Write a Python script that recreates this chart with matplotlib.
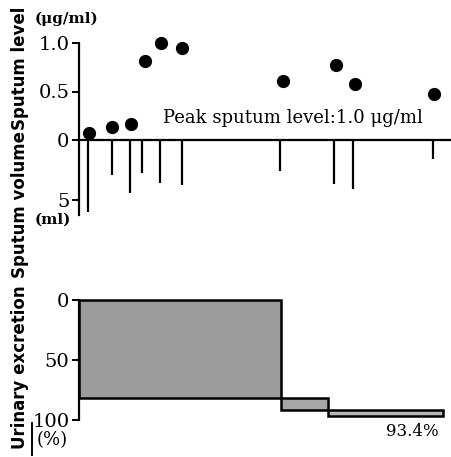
import matplotlib
matplotlib.use("Agg")
import matplotlib.pyplot as plt
from matplotlib.patches import Rectangle
from matplotlib.lines import Line2D

plt.rcParams['font.family'] = ['DejaVu Serif']

# 喀痰中濃度 (time axis in arbitrary units, 0..37.2)
level_time = [1.0, 3.3, 5.2, 6.6, 8.2, 10.3, 20.4, 25.7, 27.6, 35.5]
level_val = [0.07, 0.13, 0.17, 0.81, 1.0, 0.95, 0.61, 0.77, 0.58, 0.47]

# 喀痰量 (ml)
vol_time = [0.9, 3.3, 5.1, 6.3, 8.1, 10.3, 20.1, 25.5, 27.4, 35.4]
vol_val = [6.0, 2.9, 4.4, 2.75, 3.6, 3.75, 2.6, 3.7, 4.1, 1.6]

# 尿中排泄 (%)
urine_start = [0.0, 20.2, 24.9]
urine_end = [20.2, 24.9, 36.4]
urine_top = [0.0, 82.0, 92.0]
urine_bottom = [81.5, 92.0, 97.0]
urine_color = ['#9c9c9c', '#a6a6a6', '#b8b8b8']

ml_scale = 12 / 97  # level units per ml on the shared axis
x_max = 37.2

fig = plt.figure(figsize=(4.51, 4.57), dpi=100)

# 上段: 濃度と喀痰量
ax = fig.add_axes([79 / 451, (457 - 215) / 457, 372 / 451, 172 / 457])
ax.set_xlim(0, x_max)
ax.set_ylim(-6.25 * ml_scale, 1.0)
ax.vlines(vol_time, 0, [-v * ml_scale for v in vol_val], color='black', lw=1.6)
ax.plot(level_time, level_val, 'o', color='black', ms=8.5, clip_on=False, zorder=5)
ax.axhline(0, color='black', lw=1.6)
for s in ['top', 'right', 'bottom']:
    ax.spines[s].set_visible(False)
ax.spines['left'].set_linewidth(1.6)
ax.set_xticks([])
ax.set_yticks([1.0, 0.5, 0, -5 * ml_scale])
ax.set_yticklabels(['1.0', '0.5', '0', '5'])
ax.tick_params(axis='y', length=5, width=1.4, pad=2, labelsize=14)
ax.text(8.4, 0.23, 'Peak sputum level:1.0 μg/ml', fontsize=13, va='center', ha='left')

# 下段: 尿中排泄
ax2 = fig.add_axes([79 / 451, (457 - 420) / 457, 372 / 451, 120 / 457])
ax2.set_xlim(0, x_max)
ax2.set_ylim(100, 0)
for x0, x1, y0, y1, c in zip(urine_start, urine_end, urine_top, urine_bottom, urine_color):
    ax2.add_patch(Rectangle((x0, y0), x1 - x0, y1 - y0, facecolor=c,
                            edgecolor='black', lw=1.8, clip_on=False))
for s in ['top', 'right', 'bottom']:
    ax2.spines[s].set_visible(False)
ax2.spines['left'].set_linewidth(1.6)
ax2.set_xticks([])
ax2.set_yticks([0, 50, 100])
ax2.tick_params(axis='y', length=5, width=1.4, pad=2, labelsize=14)
ax2.text(36.0, 110, '93.4%', fontsize=12, ha='right', va='center', clip_on=False)

# 軸ラベル
lab = dict(rotation=90, ha='center', va='center', fontsize=12,
           fontweight='bold', family=['DejaVu Sans'])
fig.text(20 / 451, 1 - 68 / 457, 'Sputum level', **lab)
fig.text(20 / 451, 1 - 205 / 457, 'Sputum volume', **lab)
fig.text(20 / 451, 1 - 367 / 457, 'Urinary excretion', **lab)

fig.text(35 / 451, 1 - 19 / 457, '(μg/ml)', fontsize=11, fontweight='bold', va='center')
fig.text(35 / 451, 1 - 220 / 457, '(ml)', fontsize=11, fontweight='bold', va='center')
fig.text(37 / 451, 1 - 440 / 457, '(%)', fontsize=13, va='center')
fig.add_artist(Line2D([32 / 451, 32 / 451], [1 - 423 / 457, 1 - 455 / 457],
                      color='black', lw=1.4))

fig.savefig('out.png', dpi=100)
